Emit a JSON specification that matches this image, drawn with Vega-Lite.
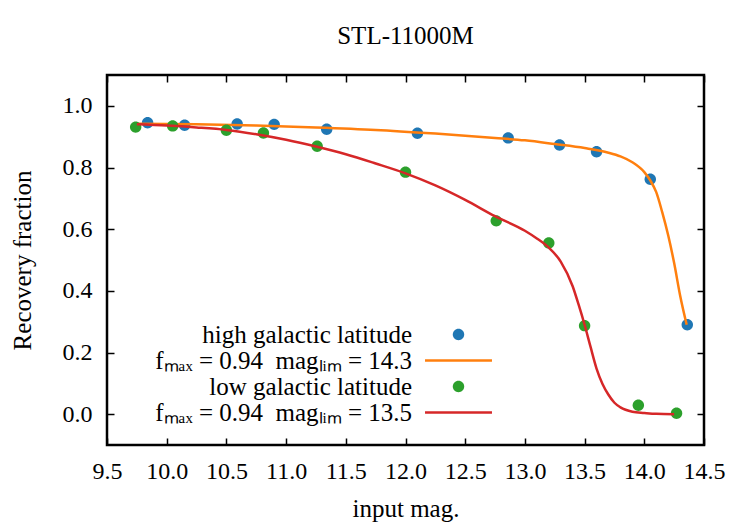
{
  "$schema": "https://vega.github.io/schema/vega-lite/v6.json",
  "description": "Recovery fraction against input magnitude, STL-11000M",
  "autosize": {"type": "none"},
  "padding": {"left": 107, "top": 75, "right": 46, "bottom": 80},
  "width": 597,
  "height": 370,
  "title": {
    "text": "STL-11000M",
    "font": "Liberation Serif",
    "fontSize": 25,
    "fontWeight": "normal",
    "color": "black",
    "anchor": "middle",
    "offset": 25
  },
  "datasets": {
    "points": [
      {"mag": 9.84, "frac": 0.945, "series": "high galactic latitude"},
      {"mag": 10.15, "frac": 0.937, "series": "high galactic latitude"},
      {"mag": 10.59, "frac": 0.941, "series": "high galactic latitude"},
      {"mag": 10.90, "frac": 0.940, "series": "high galactic latitude"},
      {"mag": 11.34, "frac": 0.924, "series": "high galactic latitude"},
      {"mag": 12.10, "frac": 0.911, "series": "high galactic latitude"},
      {"mag": 12.86, "frac": 0.896, "series": "high galactic latitude"},
      {"mag": 13.29, "frac": 0.873, "series": "high galactic latitude"},
      {"mag": 13.60, "frac": 0.851, "series": "high galactic latitude"},
      {"mag": 14.05, "frac": 0.762, "series": "high galactic latitude"},
      {"mag": 14.36, "frac": 0.290, "series": "high galactic latitude"},
      {"mag": 9.74, "frac": 0.931, "series": "low galactic latitude"},
      {"mag": 10.05, "frac": 0.935, "series": "low galactic latitude"},
      {"mag": 10.50, "frac": 0.921, "series": "low galactic latitude"},
      {"mag": 10.81, "frac": 0.912, "series": "low galactic latitude"},
      {"mag": 11.26, "frac": 0.869, "series": "low galactic latitude"},
      {"mag": 12.00, "frac": 0.785, "series": "low galactic latitude"},
      {"mag": 12.76, "frac": 0.627, "series": "low galactic latitude"},
      {"mag": 13.20, "frac": 0.555, "series": "low galactic latitude"},
      {"mag": 13.50, "frac": 0.287, "series": "low galactic latitude"},
      {"mag": 13.95, "frac": 0.029, "series": "low galactic latitude"},
      {"mag": 14.27, "frac": 0.003, "series": "low galactic latitude"}
    ],
    "curves": [
      {"mag": 9.75, "frac": 0.942, "fit": "high"},
      {"mag": 10.25, "frac": 0.940, "fit": "high"},
      {"mag": 10.75, "frac": 0.936, "fit": "high"},
      {"mag": 11.25, "frac": 0.930, "fit": "high"},
      {"mag": 11.75, "frac": 0.922, "fit": "high"},
      {"mag": 12.25, "frac": 0.910, "fit": "high"},
      {"mag": 12.75, "frac": 0.896, "fit": "high"},
      {"mag": 13.00, "frac": 0.888, "fit": "high"},
      {"mag": 13.25, "frac": 0.876, "fit": "high"},
      {"mag": 13.50, "frac": 0.863, "fit": "high"},
      {"mag": 13.70, "frac": 0.848, "fit": "high"},
      {"mag": 13.80, "frac": 0.836, "fit": "high"},
      {"mag": 13.90, "frac": 0.817, "fit": "high"},
      {"mag": 14.00, "frac": 0.785, "fit": "high"},
      {"mag": 14.05, "frac": 0.758, "fit": "high"},
      {"mag": 14.10, "frac": 0.720, "fit": "high"},
      {"mag": 14.15, "frac": 0.655, "fit": "high"},
      {"mag": 14.20, "frac": 0.580, "fit": "high"},
      {"mag": 14.25, "frac": 0.490, "fit": "high"},
      {"mag": 14.30, "frac": 0.385, "fit": "high"},
      {"mag": 14.355, "frac": 0.290, "fit": "high"},
      {"mag": 9.75, "frac": 0.940, "fit": "low"},
      {"mag": 10.00, "frac": 0.936, "fit": "low"},
      {"mag": 10.25, "frac": 0.930, "fit": "low"},
      {"mag": 10.50, "frac": 0.922, "fit": "low"},
      {"mag": 10.75, "frac": 0.908, "fit": "low"},
      {"mag": 11.00, "frac": 0.890, "fit": "low"},
      {"mag": 11.25, "frac": 0.868, "fit": "low"},
      {"mag": 11.50, "frac": 0.843, "fit": "low"},
      {"mag": 11.75, "frac": 0.813, "fit": "low"},
      {"mag": 12.00, "frac": 0.781, "fit": "low"},
      {"mag": 12.25, "frac": 0.742, "fit": "low"},
      {"mag": 12.50, "frac": 0.695, "fit": "low"},
      {"mag": 12.75, "frac": 0.642, "fit": "low"},
      {"mag": 13.00, "frac": 0.595, "fit": "low"},
      {"mag": 13.10, "frac": 0.570, "fit": "low"},
      {"mag": 13.20, "frac": 0.540, "fit": "low"},
      {"mag": 13.30, "frac": 0.495, "fit": "low"},
      {"mag": 13.40, "frac": 0.415, "fit": "low"},
      {"mag": 13.45, "frac": 0.355, "fit": "low"},
      {"mag": 13.50, "frac": 0.290, "fit": "low"},
      {"mag": 13.55, "frac": 0.218, "fit": "low"},
      {"mag": 13.60, "frac": 0.148, "fit": "low"},
      {"mag": 13.65, "frac": 0.098, "fit": "low"},
      {"mag": 13.70, "frac": 0.063, "fit": "low"},
      {"mag": 13.75, "frac": 0.037, "fit": "low"},
      {"mag": 13.80, "frac": 0.022, "fit": "low"},
      {"mag": 13.90, "frac": 0.008, "fit": "low"},
      {"mag": 14.00, "frac": 0.004, "fit": "low"},
      {"mag": 14.10, "frac": 0.001, "fit": "low"},
      {"mag": 14.25, "frac": 0.000, "fit": "low"}
    ]
  },
  "encoding": {
    "x": {
      "field": "mag",
      "type": "quantitative",
      "scale": {"domain": [9.5, 14.5], "nice": false, "zero": false}
    },
    "y": {
      "field": "frac",
      "type": "quantitative",
      "scale": {"domain": [-0.1, 1.1], "nice": false, "zero": false}
    }
  },
  "layer": [
    {
      "data": {"name": "points"},
      "transform": [{"filter": "datum.series == 'high galactic latitude'"}],
      "mark": {"type": "point", "filled": true, "opacity": 1, "size": 144},
      "encoding": {
        "x": {
          "field": "mag",
          "type": "quantitative",
          "axis": {
            "orient": "bottom",
            "title": "input mag.",
            "values": [9.5, 10, 10.5, 11, 11.5, 12, 12.5, 13, 13.5, 14, 14.5],
            "format": ".1f",
            "labelPadding": 21,
            "titlePadding": 13
          }
        },
        "y": {
          "field": "frac",
          "type": "quantitative",
          "axis": {
            "orient": "left",
            "title": "Recovery fraction",
            "values": [0, 0.2, 0.4, 0.6, 0.8, 1.0],
            "format": ".1f",
            "labelPadding": 22,
            "titlePadding": 27
          }
        },
        "color": {
          "field": "series",
          "type": "nominal",
          "scale": {
            "domain": ["high galactic latitude", "fₘₐₓ = 0.94 \u00a0magₗᵢₘ = 14.3", "low galactic latitude", "fₘₐₓ = 0.94 \u00a0magₗᵢₘ = 13.5"],
            "range": ["#1f77b4", "#ff7f0e", "#2ca02c", "#d62728"]
          },
          "legend": {
            "title": null,
            "orient": "none",
            "legendX": 339,
            "legendY": 247,
            "symbolSize": 144,
            "labelAlign": "right",
            "labelOffset": -59,
            "labelLimit": 400,
            "rowPadding": 0,
            "padding": 0
          }
        },
        "shape": {
          "field": "series",
          "type": "nominal",
          "scale": {
            "domain": ["high galactic latitude", "fₘₐₓ = 0.94 \u00a0magₗᵢₘ = 14.3", "low galactic latitude", "fₘₐₓ = 0.94 \u00a0magₗᵢₘ = 13.5"],
            "range": [
              "M-0.95,0A0.95,0.95,0,1,1,0.95,0A0.95,0.95,0,1,1,-0.95,0Z",
              "M-5.58,-0.21H5.58V0.21H-5.58Z",
              "M-0.95,0A0.95,0.95,0,1,1,0.95,0A0.95,0.95,0,1,1,-0.95,0Z",
              "M-5.58,-0.21H5.58V0.21H-5.58Z"
            ]
          },
          "legend": {
            "title": null,
            "orient": "none",
            "legendX": 339,
            "legendY": 247,
            "symbolSize": 144,
            "labelAlign": "right",
            "labelOffset": -59,
            "labelLimit": 400,
            "rowPadding": 0,
            "padding": 0
          }
        }
      }
    },
    {
      "data": {"name": "curves"},
      "transform": [{"filter": "datum.fit == 'high'"}],
      "mark": {"type": "line", "color": "#ff7f0e", "strokeWidth": 2.5, "interpolate": "monotone"},
      "encoding": {
        "x": {
          "field": "mag",
          "type": "quantitative",
          "axis": {"orient": "top", "title": null, "labels": false, "values": [9.5, 10, 10.5, 11, 11.5, 12, 12.5, 13, 13.5, 14, 14.5]}
        },
        "y": {
          "field": "frac",
          "type": "quantitative",
          "axis": {"orient": "right", "title": null, "labels": false, "values": [0, 0.2, 0.4, 0.6, 0.8, 1.0]}
        }
      }
    },
    {
      "data": {"name": "points"},
      "transform": [{"filter": "datum.series == 'low galactic latitude'"}],
      "mark": {"type": "point", "filled": true, "opacity": 1, "size": 144},
      "encoding": {
        "x": {"field": "mag", "type": "quantitative", "axis": null},
        "y": {"field": "frac", "type": "quantitative", "axis": null},
        "color": {"field": "series", "type": "nominal"},
        "shape": {"field": "series", "type": "nominal"}
      }
    },
    {
      "data": {"name": "curves"},
      "transform": [{"filter": "datum.fit == 'low'"}],
      "mark": {"type": "line", "color": "#d62728", "strokeWidth": 2.5, "interpolate": "monotone"},
      "encoding": {
        "x": {"field": "mag", "type": "quantitative", "axis": null},
        "y": {"field": "frac", "type": "quantitative", "axis": null}
      }
    }
  ],
  "resolve": {"axis": {"x": "independent", "y": "independent"}},
  "config": {
    "font": "Liberation Serif",
    "view": {"stroke": "black", "strokeWidth": 2.5},
    "axis": {
      "grid": false,
      "domain": false,
      "ticks": true,
      "tickSize": -7,
      "tickWidth": 1.5,
      "tickColor": "black",
      "labelOverlap": false,
      "labelFlush": false,
      "labelFont": "Liberation Serif",
      "labelFontSize": 24,
      "labelColor": "black",
      "titleFont": "Liberation Serif",
      "titleFontSize": 25,
      "titleFontWeight": "normal",
      "titleColor": "black"
    },
    "legend": {
      "labelFont": "Liberation Serif",
      "labelFontSize": 25,
      "labelColor": "black"
    }
  }
}
